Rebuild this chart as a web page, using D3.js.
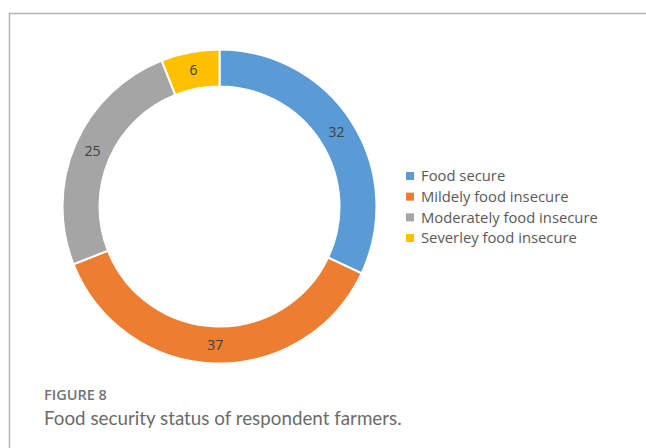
<!DOCTYPE html>
<html><head><meta charset="utf-8">
<script src="https://cdn.jsdelivr.net/npm/d3@7"></script>
<style>body{margin:0;background:#fff}svg{display:block}</style>
</head><body>
<svg id="c" width="646" height="448"></svg>
<script>
const categories = ["Food secure","Mildely food insecure","Moderately food insecure","Severley food insecure"];
const values = [32, 37, 25, 6];
const colors = ["#5B9BD5","#ED7D31","#A5A5A5","#FFC000"];
const figureLabel = "FIGURE 8";
const caption = "Food security status of respondent farmers.";

const svg = d3.select("#c");
// frame
svg.append("path").attr("d","M9.5,448 L9.5,13.5 L646,13.5").attr("fill","none").attr("stroke","#b4b4b4").attr("stroke-width",1.5);

const cx = 219.5, cy = 206.5, rOut = 157, rIn = 120;
const pie = d3.pie().sort(null).value(d=>d)(values);
const arc = d3.arc().innerRadius(rIn).outerRadius(rOut);
const lab = d3.arc().innerRadius((rIn+rOut)/2).outerRadius((rIn+rOut)/2);
const g = svg.append("g").attr("transform",`translate(${cx},${cy})`);
g.selectAll("path").data(pie).join("path").attr("d",arc)
  .attr("fill",(d,i)=>colors[i]).attr("stroke","#fff").attr("stroke-width",2);
g.selectAll("text").data(pie).join("text")
  .attr("transform",d=>`translate(${lab.centroid(d)})`)
  .attr("text-anchor","middle").attr("dy","0.35em")
  .attr("font-family","'Open Sans', sans-serif").attr("font-size",14).attr("fill","#404040")
  .text(d=>d.data);

// legend
const lg = svg.append("g");
const ly = d3.scalePoint().domain(categories).range([176,238]);
categories.forEach((c,i)=>{
  lg.append("rect").attr("x",406).attr("y",ly(c)-4).attr("width",8).attr("height",8).attr("fill",colors[i]);
  lg.append("text").attr("x",421).attr("y",ly(c)).attr("dy","0.35em")
    .attr("font-family","'Open Sans', sans-serif").attr("font-size",14.8).attr("fill","#595959").text(c);
});

svg.append("text").attr("x",44).attr("y",400).attr("font-family","'Open Sans', sans-serif")
  .attr("font-size",14.5).attr("font-weight",600).attr("fill","#737373").text(figureLabel);
svg.append("text").attr("x",44).attr("y",425).attr("font-family","Lato, 'Open Sans', sans-serif")
  .attr("font-size",18.8).attr("fill","#6b6b6b").text(caption);
</script>
</body></html>
